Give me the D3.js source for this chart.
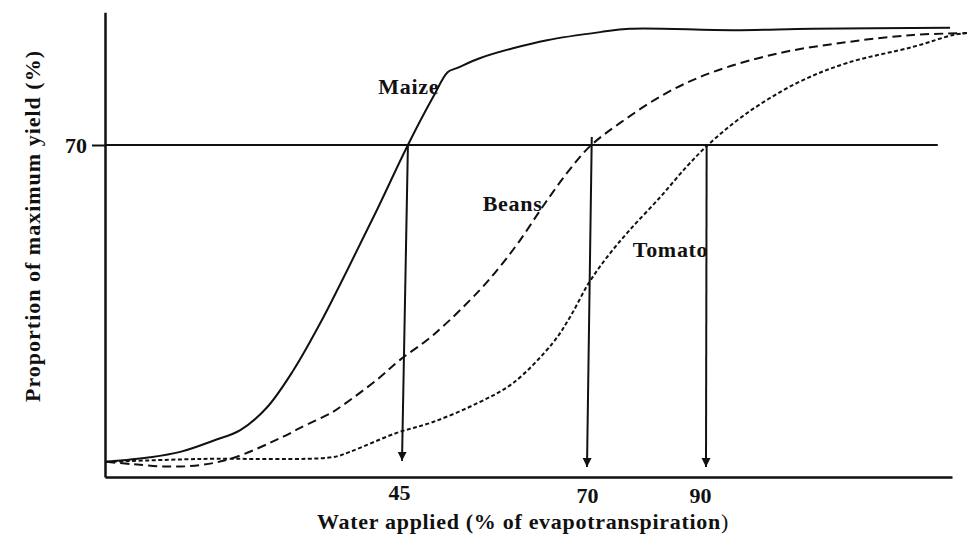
<!doctype html>
<html lang="en">
<head>
  <meta charset="utf-8">
  <script src="https://d3js.org/d3.v7.min.js"></script>
  <style>
    body { margin: 0; background: #fff; }
    text { font-family: "Liberation Serif", "DejaVu Serif", serif; font-weight: bold; fill: #111; }
  </style>
</head>
<body>
  <script>
    var width = 969,
        height = 536;

    // water applied (% of ET) and yield (% of max) for each curve point
    var maizeX = [0.2, 6.8, 11.4, 16.4, 20.5, 24.5, 28.5, 32.6, 36.7, 41.2, 45.8, 49.2, 51.2, 52.4, 55.5, 60.0, 64.6, 72.2, 77.2, 94.2, 106.5, 127.7];
    var maizeY = [3.2, 4.15, 5.3, 7.65, 9.9, 14.6, 22.4, 32.4, 43.6, 56.3, 70, 80.1, 85.4, 86.2, 88.3, 90.4, 92.1, 93.8, 94.5, 94.2, 94.5, 94.7];

    var beansX = [0.2, 4.2, 9.4, 14.4, 19.4, 27.0, 29.5, 34.5, 36.1, 41.2, 44.7, 49.2, 55.5, 58.2, 60.9, 64.1, 67.3, 70.4, 75.5, 83.4, 91.1, 101.4, 111.8, 122.0, 130.3];
    var beansY = [3.2, 2.7, 2.2, 2.5, 4.0, 8.5, 10.3, 13.7, 15.2, 20.5, 24.7, 29.9, 39.4, 44.3, 49.8, 57.2, 64.1, 69.6, 74.6, 81.0, 85.4, 89.4, 91.7, 93.2, 93.6];

    var tomatoX = [0.2, 14.4, 34.5, 37.1, 44.2, 49.2, 55.5, 60.0, 65.4, 67.7, 70.3, 73.4, 77.2, 82.3, 86.8, 90.3, 96.3, 104.1, 111.8, 122.0, 128.2, 130.3];
    var tomatoY = [3.2, 3.8, 4.2, 5.3, 9.3, 11.6, 15.8, 19.8, 28.3, 33.7, 40.9, 46.4, 52.1, 59.0, 65.5, 70, 76.7, 83.1, 87.3, 90.7, 93.2, 93.6];

    var threshold = 70;
    var xTicks = [45, 70, 90];
    var arrowTopX = [45.8, 70.8, 90.1];
    var arrowFromY = [70, 71.7, 70];
    var arrowToY = [3.4, 2.1, 2.1];

    var crops = ["Maize", "Beans", "Tomato"];

    // hand-drawn axis is not linear, so a piecewise scale is used
    var x = d3.scaleLinear()
        .domain([0, 45, 70, 90, 128])
        .range([105, 402, 587, 706, 952]);
    var y = d3.scaleLinear()
        .domain([0, 98])
        .range([477, 12.2]);

    var svg = d3.select("body").append("svg")
        .attr("width", width)
        .attr("height", height);

    // arrow head
    svg.append("defs").append("marker")
        .attr("id", "head")
        .attr("viewBox", "0 0 10 10")
        .attr("refX", 10).attr("refY", 5)
        .attr("markerUnits", "userSpaceOnUse")
        .attr("markerWidth", 9).attr("markerHeight", 11)
        .attr("orient", "auto")
      .append("path")
        .attr("d", "M0,0 L10,5 L0,10 z")
        .attr("fill", "#111");

    // axes
    var yAxis = svg.append("g")
        .attr("transform", "translate(" + x(0) + ",0)")
        .call(d3.axisLeft(y).tickValues([threshold]).tickSize(13).tickSizeOuter(0).tickPadding(5));
    var xAxis = svg.append("g")
        .attr("transform", "translate(0," + y(0) + ")")
        .call(d3.axisBottom(x).tickValues(xTicks).tickSize(0).tickSizeOuter(0).tickPadding(10));

    svg.selectAll(".domain, .tick line")
        .attr("stroke", "#111")
        .attr("stroke-width", 2.5);
    svg.selectAll(".tick text")
        .style("font-size", "22px")
        .style("font-family", "'Liberation Serif', serif")
        .style("font-weight", "bold")
        .attr("fill", "#111");
    yAxis.select(".tick line").attr("stroke-width", 2);
    // labels are not quite under the arrows in the original
    xAxis.selectAll(".tick text")
        .attr("dx", function(d) { return d === 45 ? -3 : d === 90 ? -6 : 0; })
        .attr("y", function(d) { return d === 45 ? 7.4 : 10.4; });

    // 70% reference line
    svg.append("line")
        .attr("x1", x(0)).attr("x2", x(125.8))
        .attr("y1", y(threshold)).attr("y2", y(threshold))
        .attr("stroke", "#111")
        .attr("stroke-width", 2);

    var line = d3.line()
        .x(function(d) { return x(d[0]); })
        .y(function(d) { return y(d[1]); })
        .curve(d3.curveCatmullRom.alpha(0.5));

    var series = [
      { xs: maizeX, ys: maizeY, dash: null },
      { xs: beansX, ys: beansY, dash: "9,5" },
      { xs: tomatoX, ys: tomatoY, dash: "4,2.5" }
    ];

    series.forEach(function(s) {
      var pts = s.xs.map(function(v, i) { return [v, s.ys[i]]; });
      svg.append("path")
          .datum(pts)
          .attr("d", line)
          .attr("fill", "none")
          .attr("stroke", "#111")
          .attr("stroke-width", 2)
          .attr("stroke-dasharray", s.dash);
    });

    // arrows down to the x axis
    svg.selectAll(".arrow")
        .data(xTicks)
      .enter().append("line")
        .attr("class", "arrow")
        .attr("x1", function(d, i) { return x(arrowTopX[i]); })
        .attr("y1", function(d, i) { return y(arrowFromY[i]); })
        .attr("x2", function(d) { return x(d); })
        .attr("y2", function(d, i) { return y(arrowToY[i]); })
        .attr("stroke", "#111")
        .attr("stroke-width", 2)
        .attr("marker-end", "url(#head)");

    // crop labels
    var labelAt = [[41.4, 80.8], [55.9, 56.1], [77.7, 46.4]];
    svg.selectAll(".crop")
        .data(crops)
      .enter().append("text")
        .attr("class", "crop")
        .attr("x", function(d, i) { return x(labelAt[i][0]); })
        .attr("y", function(d, i) { return y(labelAt[i][1]); })
        .style("font-size", "22px")
        .style("letter-spacing", "0.7px")
        .text(function(d) { return d; });

    // axis titles
    var xt = svg.append("text")
        .attr("x", 523)
        .attr("y", 529)
        .attr("text-anchor", "middle")
        .style("font-size", "22px")
        .style("letter-spacing", "0.7px");
    xt.append("tspan").text("Water applied (% of evapotranspiration");
    xt.append("tspan").style("font-weight", "normal").text(")");

    svg.append("text")
        .attr("transform", "translate(40,226) rotate(-90)")
        .attr("text-anchor", "middle")
        .style("font-size", "22px")
        .style("letter-spacing", "1px")
        .text("Proportion of maximum yield (%)");
  </script>
</body>
</html>
